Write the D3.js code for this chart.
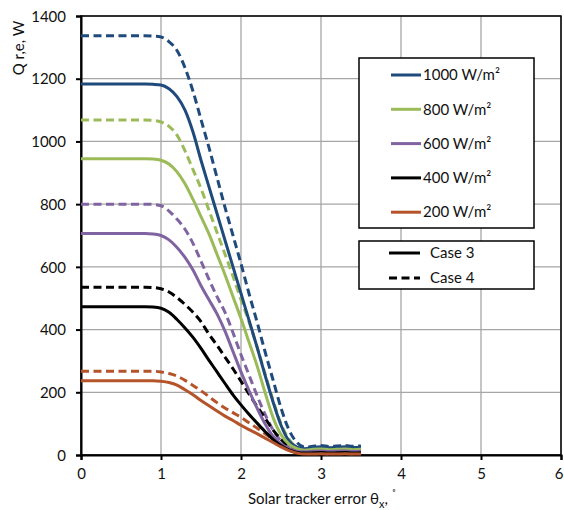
<!DOCTYPE html>
<html>
<head>
<meta charset="utf-8">
<script src="https://cdn.jsdelivr.net/npm/d3@7"></script>
<style>
  html, body { margin: 0; padding: 0; background: #fff; }
  svg { display: block; font-family: Lato, "Open Sans", sans-serif; }
</style>
</head>
<body>
<svg id="chart" width="564" height="510"></svg>
<script>
// Tracker error angle, degrees
const errorAngles = [0, 0.5, 0.8, 0.9, 1.0, 1.1, 1.2, 1.3, 1.4, 1.5, 1.6, 1.7, 1.8, 1.9, 2.0,
  2.1, 2.2, 2.3, 2.4, 2.5, 2.6, 2.7, 2.8, 2.9, 3.0, 3.1, 3.2, 3.3, 3.4, 3.5];

// Useful heat gain Q r,e (W) — Case 4 (dashed)
const case4_1000 = [1337,1337,1337,1336,1333,1318,1290,1235,1160,1070,980,885,790,700,610,515,425,330,240,150,80,40,25,28,30,27,29,30,28,29];
const case4_800  = [1068,1068,1068,1067,1062,1048,1020,970,910,850,780,710,640,570,495,425,345,260,175,100,50,25,18,22,23,21,22,23,21,22];
const case4_600  = [800,800,800,799,795,778,752,720,675,618,560,505,455,390,320,255,190,130,80,45,25,15,12,15,16,14,15,16,14,15];
const case4_400  = [535,535,535,534,530,520,502,480,455,425,385,350,312,275,235,195,155,118,80,50,28,15,10,10,11,9,10,11,9,10];
const case4_200  = [267,267,267,267,265,260,252,238,222,205,186,167,150,135,120,103,86,68,50,33,18,8,4,5,6,4,5,6,4,5];

// Useful heat gain Q r,e (W) — Case 3 (solid)
const case3_1000 = [1183,1183,1183,1182,1180,1168,1143,1100,1030,940,855,770,685,600,515,430,345,255,170,95,45,25,20,24,26,23,25,26,24,25];
const case3_800  = [945,945,945,944,940,928,903,865,815,760,705,640,575,505,435,360,285,200,120,65,35,20,15,18,19,17,18,19,17,18];
const case3_600  = [706,706,706,705,700,686,662,630,590,540,495,450,395,330,265,205,150,100,60,35,20,12,10,12,13,11,12,13,11,12];
const case3_400  = [473,473,473,472,468,455,432,405,375,340,302,265,228,192,160,130,102,75,50,30,16,8,6,7,8,6,7,8,6,7];
const case3_200  = [237,237,237,237,235,231,223,208,192,174,157,140,124,110,95,81,68,54,40,26,14,6,3,3,4,3,3,4,3,3];

const irradianceLabels = ["1000 W/m²", "800 W/m²", "600 W/m²", "400 W/m²", "200 W/m²"];
const irradianceColors = ["#1F4A7C", "#9BBB59", "#8064A2", "#000000", "#B5532A"];
const caseLabels = ["Case 3", "Case 4"];
const xTicks = [0, 1, 2, 3, 4, 5, 6];
const yTicks = [0, 200, 400, 600, 800, 1000, 1200, 1400];

const case3 = [case3_1000, case3_800, case3_600, case3_400, case3_200];
const case4 = [case4_1000, case4_800, case4_600, case4_400, case4_200];

const svg = d3.select("#chart");
const margin = { left: 81, top: 16, right: 3, bottom: 55 };
const W = 564, H = 510;

const x = d3.scaleLinear().domain([0, 6]).range([margin.left, W - margin.right]);
const y = d3.scaleLinear().domain([0, 1400]).range([H - margin.bottom, margin.top]);

// Gridlines
const grid = svg.append("g");
grid.selectAll("line.h").data(yTicks).join("line")
  .attr("x1", x(0)).attr("x2", x(6))
  .attr("y1", d => y(d)).attr("y2", d => y(d))
  .attr("stroke", "#a6a6a6").attr("stroke-width", 1.3);
grid.selectAll("line.v").data(xTicks).join("line")
  .attr("y1", y(0)).attr("y2", y(1400))
  .attr("x1", d => x(d)).attr("x2", d => x(d))
  .attr("stroke", "#a6a6a6").attr("stroke-width", 1.3);

// Plot frame
svg.append("rect")
  .attr("x", x(0)).attr("y", y(1400))
  .attr("width", x(6) - x(0)).attr("height", y(0) - y(1400))
  .attr("fill", "none").attr("stroke", "#000").attr("stroke-width", 1.5);

// Axes
const xAxis = svg.append("g")
  .attr("transform", `translate(0,${y(0)})`)
  .call(d3.axisBottom(x).tickValues(xTicks).tickFormat(d3.format("d")).tickSize(5).tickPadding(8));
const yAxis = svg.append("g")
  .attr("transform", `translate(${x(0)},0)`)
  .call(d3.axisLeft(y).tickValues(yTicks).tickFormat(d3.format("d")).tickSize(5).tickPadding(10));
[xAxis, yAxis].forEach(a => {
  a.select(".domain").attr("stroke", "#000").attr("stroke-width", 2);
  a.selectAll(".tick line").attr("stroke", "#000").attr("stroke-width", 2);
  a.selectAll(".tick text").attr("font-size", 15).attr("fill", "#111")
    .attr("font-family", "Lato, 'Open Sans', sans-serif");
});
yAxis.selectAll(".tick text").attr("dy", "0.35em");
// keep the last tick label inside the canvas
xAxis.selectAll(".tick text").filter(d => d === 6).attr("text-anchor", "end").attr("dx", 2);

// Series lines
const line = d3.line()
  .x((d, i) => x(errorAngles[i]))
  .y(d => y(d))
  .curve(d3.curveMonotoneX);

const lines = svg.append("g").attr("fill", "none").attr("stroke-linejoin", "round");
case4.forEach((vals, k) => {
  lines.append("path").attr("d", line(vals))
    .attr("stroke", irradianceColors[k]).attr("stroke-width", 3)
    .attr("stroke-dasharray", "8,4.5");
});
case3.forEach((vals, k) => {
  lines.append("path").attr("d", line(vals))
    .attr("stroke", irradianceColors[k]).attr("stroke-width", 3);
});

// Irradiance legend
const lg1 = svg.append("g");
lg1.append("rect").attr("x", 359).attr("y", 58).attr("width", 175).attr("height", 170)
  .attr("fill", "#fff").attr("stroke", "#000").attr("stroke-width", 1.5);
irradianceLabels.forEach((lab, k) => {
  const yy = 75 + k * 34.3;
  lg1.append("line").attr("x1", 391).attr("x2", 421).attr("y1", yy).attr("y2", yy)
    .attr("stroke", irradianceColors[k]).attr("stroke-width", 3);
  lg1.append("text").attr("x", 423).attr("y", yy).attr("dy", "0.35em")
    .attr("font-size", 15).attr("fill", "#111").text(lab);
});

// Case legend
const lg2 = svg.append("g");
lg2.append("rect").attr("x", 359).attr("y", 241).attr("width", 175).attr("height", 48)
  .attr("fill", "#fff").attr("stroke", "#000").attr("stroke-width", 1.5);
caseLabels.forEach((lab, k) => {
  const yy = 253 + k * 25;
  lg2.append("line").attr("x1", 389).attr("x2", 420).attr("y1", yy).attr("y2", yy)
    .attr("stroke", "#000").attr("stroke-width", 3)
    .attr("stroke-dasharray", k === 1 ? "8,4.5" : null);
  lg2.append("text").attr("x", 430).attr("y", yy).attr("dy", "0.35em")
    .attr("font-size", 15).attr("fill", "#111").text(lab);
});

// Axis titles
const xt = svg.append("text").attr("x", 322).attr("y", 504).attr("text-anchor", "middle")
  .attr("font-size", 15).attr("fill", "#111");
xt.append("tspan").text("Solar tracker error θ");
xt.append("tspan").attr("font-size", 11).attr("dy", 4).text("x");
xt.append("tspan").attr("dy", -4).text(", ");
xt.append("tspan").attr("font-size", 11).attr("dy", -6).text("˚");

svg.append("text")
  .attr("transform", "translate(24,48) rotate(-90)")
  .attr("text-anchor", "middle").attr("font-size", 15).attr("fill", "#111")
  .text("Q r,e, W");
</script>
</body>
</html>
